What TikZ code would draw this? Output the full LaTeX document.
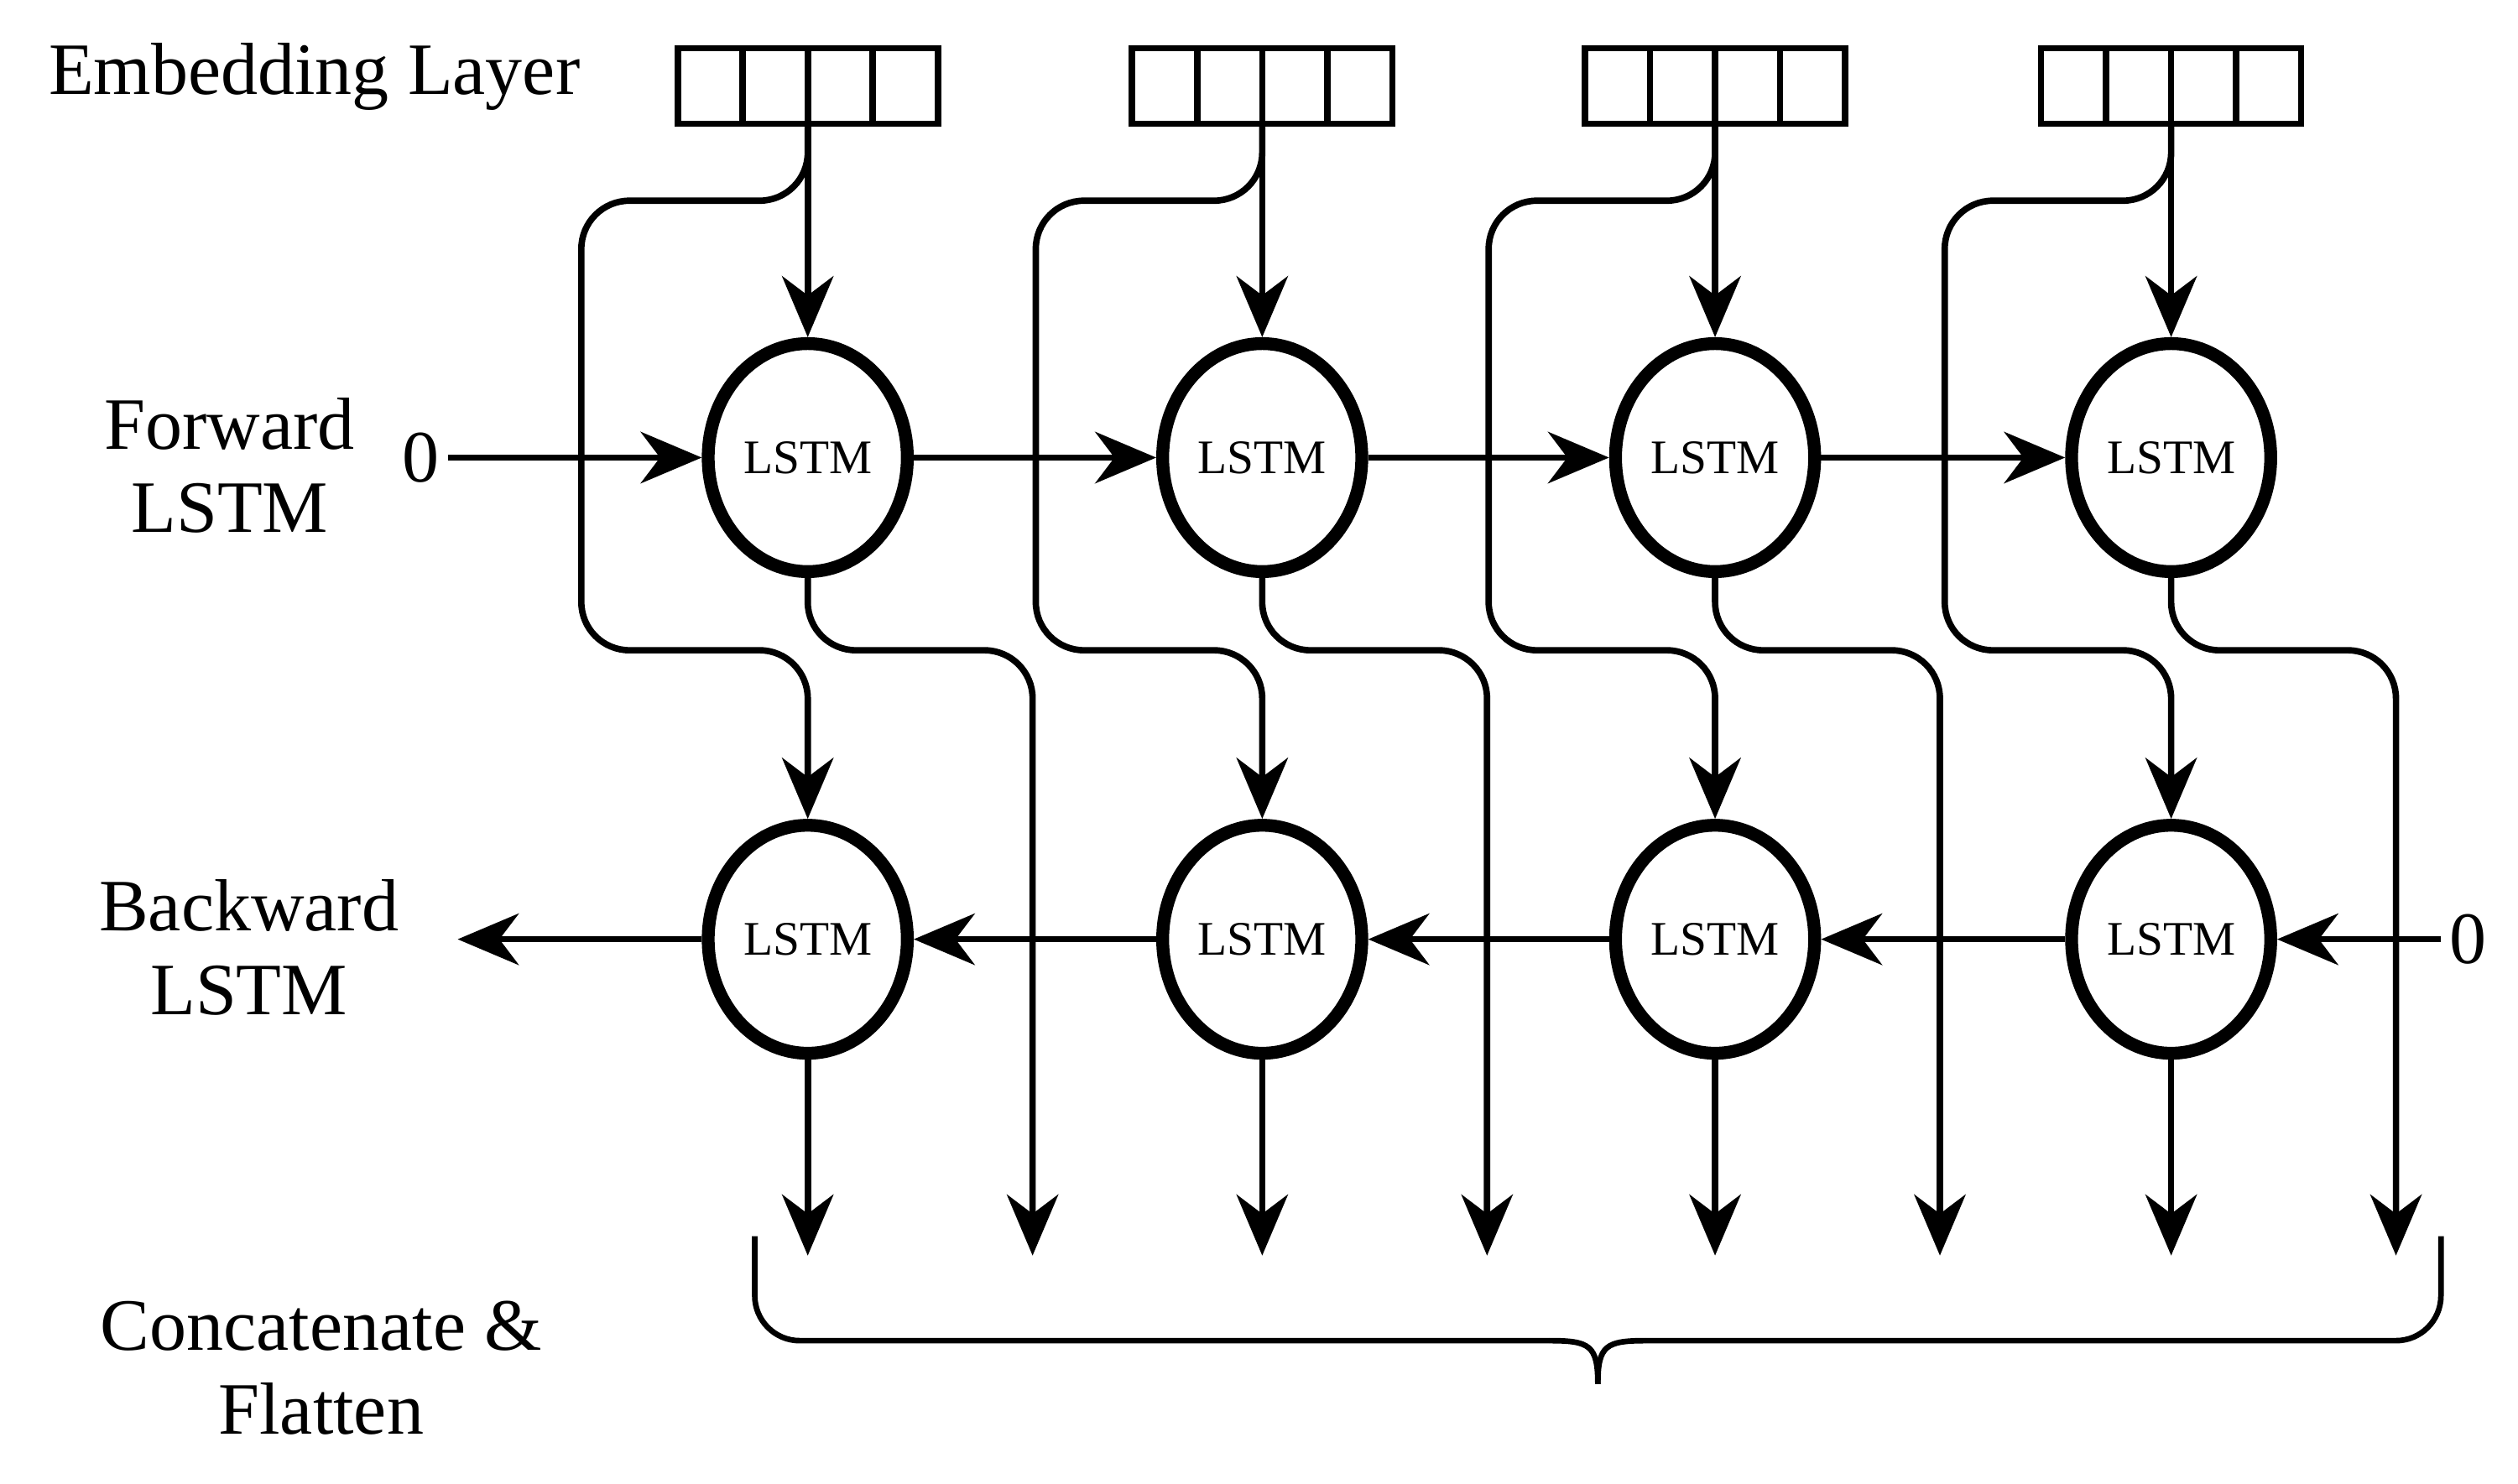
\documentclass[tikz,border=0pt]{standalone}
\usepackage{fontspec}
\setmainfont{Liberation Serif}
\usetikzlibrary{arrows.meta,shapes.geometric}
\begin{document}
\begin{tikzpicture}[x=1pt,y=-1pt,
  line width=4pt,
  tip/.style={-{Stealth[length=38pt,width=32pt,inset=12pt]}},
  lstm/.style={draw,ellipse,line width=8pt,minimum width=124pt,minimum height=142pt,inner sep=0pt,font=\fontsize{30}{32}\selectfont},
  cell/.style={draw,line width=4pt,minimum width=40.5pt,minimum height=47pt,inner sep=0pt},
  lbl/.style={font=\fontsize{46}{52}\selectfont,align=center},
  rc/.style={rounded corners=30pt}]
\useasboundingbox (0,0) rectangle (1568,924);
\node[lbl,anchor=west] (tE) at (25,48) {Embedding Layer};
\node[lbl] (tF) at (143,290) {Forward\\LSTM};
\node[lbl] (tB) at (155,590) {Backward\\LSTM};
\node[lbl] (tC) at (200,852) {Concatenate \&\\Flatten};
\node[lbl] (z1) at (262,285) {0};
\node[lbl] (z2) at (1537,585) {0};
\foreach \i/\x in {1/503,2/786,3/1068,4/1352}{
  \foreach \k in {0,1,2,3}{
    \node[cell] (c\i\k) at ({\x-60.75+\k*40.5},53.5) {};
  }
  \coordinate (e\i) at (\x,77);
  \node[lstm] (f\i) at (\x,285) {LSTM};
  \node[lstm] (b\i) at (\x,585) {LSTM};
  \coordinate (o\i) at (\x,782);
  \coordinate (p\i) at ({\x+140},782);
  \draw[tip] (e\i) -- (f\i.north);
  \draw[tip,rc] (e\i) -- (\x,125) -- ({\x-141},125) -- ({\x-141},405) -- (\x,405) -- (b\i.north);
  \draw[tip,rc] (f\i.south) -- (\x,405) -- ({\x+140},405) -- (p\i);
  \draw[tip] (b\i.south) -- (o\i);
}
\draw[tip] (z1) -- (f1.west);
\draw[tip] (f1) -- (f2.west);
\draw[tip] (f2) -- (f3.west);
\draw[tip] (f3) -- (f4.west);
\coordinate (bl) at (285,585);
\draw[tip] (b1.west) -- (bl);
\draw[tip] (b2) -- (b1.east);
\draw[tip] (b3) -- (b2.east);
\draw[tip] (b4) -- (b3.east);
\draw[tip] (z2) -- (b4.east);
\coordinate (brL) at (470,770);
\coordinate (brR) at (1520,770);
\coordinate (brM) at (995,862);
\draw[line width=3.5pt,rounded corners=28pt] (brL) -- (470,835) -- (965,835);
\draw[line width=3.5pt,rounded corners=28pt] (brR) -- (1520,835) -- (1025,835);
\draw[line width=3.5pt] (965,835) .. controls (990,835) and (995,838) .. (brM);
\draw[line width=3.5pt] (1025,835) .. controls (1000,835) and (995,838) .. (brM);
\end{tikzpicture}
\end{document}
